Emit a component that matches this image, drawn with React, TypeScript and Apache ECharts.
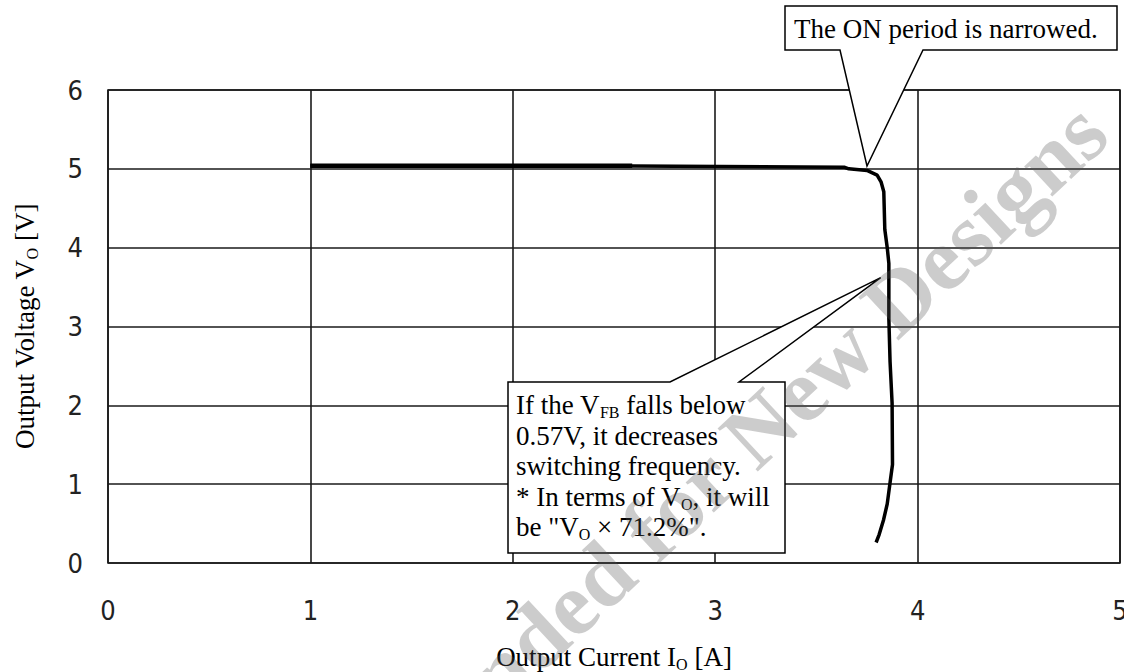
import React, { useEffect, useRef } from "react";
import * as echarts from "echarts";

// Output current I_O [A] and output voltage V_O [V] of the measured curve
const IO_A = [1.0, 2.59, 3.64, 3.66, 3.75, 3.80, 3.82, 3.833, 3.838, 3.85, 3.858, 3.858, 3.864, 3.874, 3.876, 3.864, 3.85, 3.832, 3.81, 3.795];
const VO_V = [5.04, 5.035, 5.02, 5.0, 4.98, 4.92, 4.83, 4.71, 4.23, 4.0, 3.8, 3.1, 2.55, 2.03, 1.25, 1.02, 0.75, 0.55, 0.36, 0.26];
// overlapping (thicker) trace at the beginning of the curve
const IO_A_OVERLAP = [1.0, 2.59];
const VO_V_OVERLAP = [5.04, 5.04];

const X_MIN = 0, X_MAX = 5, X_STEP = 1;
const Y_MIN = 0, Y_MAX = 6, Y_STEP = 1;

const X_NAME = "Output Current I{sub|O} [A]";
const Y_NAME = "Output Voltage V{sub|O} [V]";
const NOTE_TOP = "The ON period is narrowed.";
const NOTE_BOTTOM = [
  "If the V{sub|FB} falls below",
  "0.57V, it decreases",
  "switching frequency.",
  "* In terms of V{sub|O}, it will",
  "be \"V{sub|O} × 71.2%\".",
];
const WATERMARK = "Not Recommended for New Designs";

const SERIF = '"Liberation Serif", "Times New Roman", Times, serif';
const TICKFONT = '"DejaVu Sans Condensed", "Liberation Sans Narrow", "Liberation Sans", sans-serif';

const subRich = {
  sub: { fontSize: 16, fontFamily: SERIF, color: "#000", verticalAlign: "bottom", lineHeight: 14 },
};

export default function App() {
  const ref = useRef<HTMLDivElement>(null);
  useEffect(() => {
    if (!ref.current) return;
    const chart = echarts.init(ref.current, null, { renderer: "svg" });
    const main = IO_A.map((x, i) => [x, VO_V[i]]);
    const overlap = IO_A_OVERLAP.map((x, i) => [x, VO_V_OVERLAP[i]]);
    const gridLine = { lineStyle: { color: "#1a1a1a", width: 1.6 } };
    chart.setOption({
      animation: false,
      backgroundColor: "#fff",
      grid: {
        left: 108, top: 90, right: 4, bottom: 109,
        outerBoundsMode: "none", containLabel: false,
        show: true, borderColor: "#1a1a1a", borderWidth: 1.6, backgroundColor: "transparent",
      },
      xAxis: {
        type: "value", min: X_MIN, max: X_MAX, interval: X_STEP,
        axisLine: { show: false }, axisTick: { show: false },
        splitLine: { show: true, ...gridLine },
        axisLabel: { margin: 34, fontFamily: TICKFONT, fontSize: 27, color: "#222" },
        name: X_NAME, nameLocation: "middle", nameGap: 79,
        nameTextStyle: { fontFamily: SERIF, fontSize: 27, color: "#000", lineHeight: 30, rich: subRich },
      },
      yAxis: {
        type: "value", min: Y_MIN, max: Y_MAX, interval: Y_STEP,
        axisLine: { show: false }, axisTick: { show: false },
        splitLine: { show: true, ...gridLine },
        axisLabel: { margin: 25, fontFamily: TICKFONT, fontSize: 27, color: "#222" },
        name: Y_NAME, nameLocation: "middle", nameGap: 68,
        nameTextStyle: { fontFamily: SERIF, fontSize: 27, color: "#000", lineHeight: 30, rich: subRich },
      },
      series: [
        {
          type: "line", data: main, showSymbol: false, z: 3,
          lineStyle: { color: "#000", width: 3.5 }, itemStyle: { color: "#000" },
        },
        {
          type: "line", data: overlap, showSymbol: false, z: 3,
          lineStyle: { color: "#000", width: 4.5 }, itemStyle: { color: "#000" },
        },
      ],
      graphic: [
        {
          type: "polygon", z: 10,
          shape: { points: [[785, 6], [1117, 6], [1117, 50], [923, 50], [867, 166], [840, 50], [785, 50]] },
          style: { fill: "#fff", stroke: "#000", lineWidth: 1.5 },
        },
        {
          type: "text", z: 11, x: 794, y: 14,
          style: { text: NOTE_TOP, fontFamily: SERIF, fontSize: 27, lineHeight: 30, fill: "#000", align: "left", verticalAlign: "top" },
        },
        {
          type: "polygon", z: 10,
          shape: { points: [[508, 382], [670, 382], [880.7, 277.7], [739, 382], [785, 382], [785, 553], [508, 553]] },
          style: { fill: "#fff", stroke: "#000", lineWidth: 1.5 },
        },
        {
          type: "text", z: 11, x: 516, y: 390,
          style: {
            text: NOTE_BOTTOM.join("\n"), fontFamily: SERIF, fontSize: 27, lineHeight: 30.5, fill: "#000",
            align: "left", verticalAlign: "top", rich: subRich,
          },
        },
        {
          type: "text", z: 20, x: 1092, y: 118, rotation: (43 * Math.PI) / 180,
          style: {
            text: WATERMARK, fontFamily: SERIF, fontWeight: "bold", fontSize: 90, fill: "#555", opacity: 0.3,
            align: "right", verticalAlign: "middle",
          },
        },
      ],
    });
    return () => chart.dispose();
  }, []);
  return <div ref={ref} style={{ position: "fixed", left: 0, top: 0, width: 1124, height: 672 }} />;
}
